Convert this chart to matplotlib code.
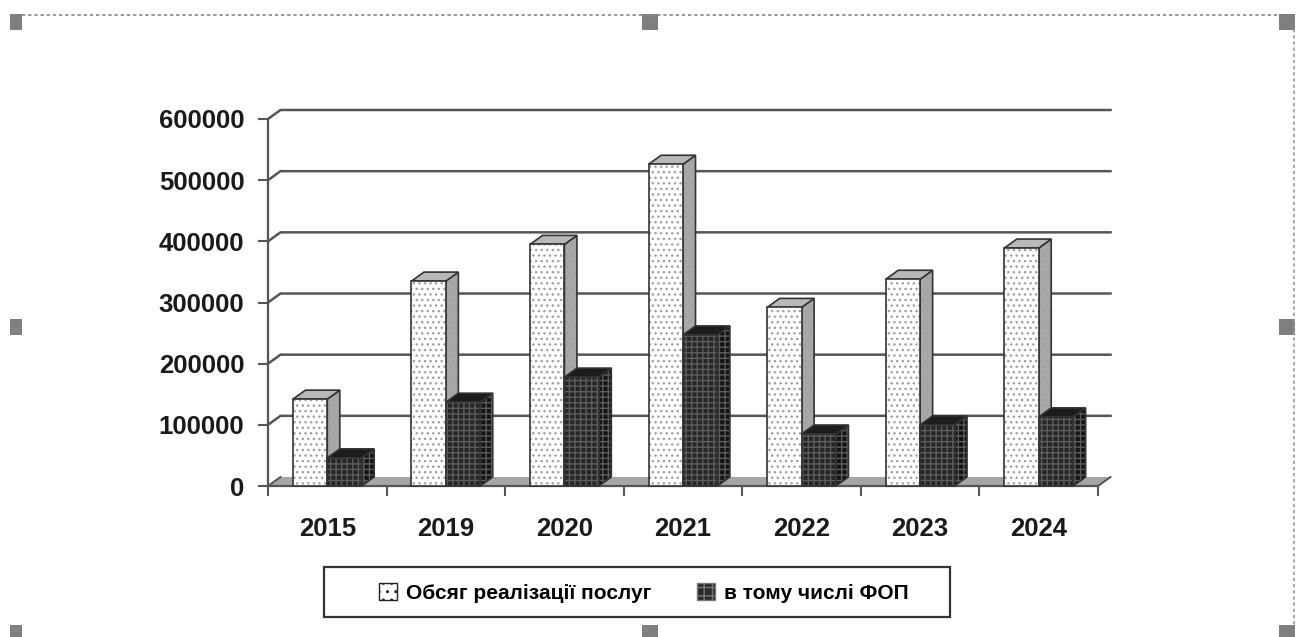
import matplotlib
matplotlib.use("Agg")
import matplotlib.pyplot as plt
from matplotlib.patches import Polygon, Patch, Rectangle

years = ["2015", "2019", "2020", "2021", "2022", "2023", "2024"]
sales = [142000, 335000, 395000, 526000, 292000, 338000, 389000]
fop = [46000, 137000, 178000, 247000, 85000, 100000, 113000]
y_ticks = [0, 100000, 200000, 300000, 400000, 500000, 600000]
sales_label = "Обсяг реалізації послуг"
fop_label = "в тому числі ФОП"

W = 1301
H = 637

plt.rcParams['font.family'] = ['Liberation Sans', 'DejaVu Sans']
plt.rcParams['hatch.linewidth'] = 1.0

fig = plt.figure(figsize=(W / 100, H / 100), dpi=100)

# front plane of the 3d box, in pixels: x 268..1098, y 119..486
ax = fig.add_axes([268 / W, (H - 486) / H, 830 / W, 367 / H])
ax.set_xlim(0, 7)
ax.set_ylim(0, 600000)
ax.patch.set_alpha(0)

# depth of the box expressed in data units
dx = 12.5 / (830 / 7)
dy = 9 / (367 / 600000)
bar_w = 0.29
bar_start = 0.21

grid_col = "#555555"


def poly(points, fc, zorder, hatch=None, hatch_col="#888888", edge="#333333"):
    if hatch:
        ax.add_patch(Polygon(points, closed=True, facecolor=fc, edgecolor=hatch_col,
                             hatch=hatch, linewidth=0, clip_on=False, zorder=zorder))
    else:
        ax.add_patch(Polygon(points, closed=True, facecolor=fc, edgecolor="none",
                             clip_on=False, zorder=zorder))
    ax.add_patch(Polygon(points, closed=True, facecolor="none", edgecolor=edge,
                         linewidth=1.2, clip_on=False, zorder=zorder))


def bar3d(x, v, front, side, top, hatch, hatch_col, z):
    x1 = x + bar_w
    poly([(x1, 0), (x1 + dx, dy), (x1 + dx, v + dy), (x1, v)], side, z, hatch, hatch_col)
    poly([(x, v), (x + dx, v + dy), (x1 + dx, v + dy), (x1, v)], top, z)
    poly([(x, 0), (x1, 0), (x1, v), (x, v)], front, z + 0.1, hatch, hatch_col)


# floor and back wall gridlines
ax.add_patch(Polygon([(0, 0), (dx, dy), (7 + dx, dy), (7, 0)], closed=True,
                     facecolor="#a6a6a6", edgecolor="none", clip_on=False, zorder=1))
for t in y_ticks[1:]:
    ax.plot([0, dx, 7 + dx], [t, t + dy, t + dy], color=grid_col, lw=1.8,
            clip_on=False, zorder=1.5, solid_joinstyle="miter")
ax.plot([0, dx], [0, dy], color=grid_col, lw=1.4, clip_on=False, zorder=1.5)
ax.plot([7, 7 + dx], [0, dy], color=grid_col, lw=1.4, clip_on=False, zorder=1.5)

for i in range(len(years)):
    x = i + bar_start
    bar3d(x, sales[i], "white", "#a8a8a8", "#b8b8b8", "...", "#a0a0a0", 3 + i)
    bar3d(x + bar_w, fop[i], "#262626", "#141414", "#1c1c1c", "+++", "#5c5c5c", 3.2 + i)

for s in ["top", "right"]:
    ax.spines[s].set_visible(False)
for s in ["left", "bottom"]:
    ax.spines[s].set_color(grid_col)
    ax.spines[s].set_linewidth(1.6)
    ax.spines[s].set_zorder(2)

ax.set_yticks(y_ticks)
ax.set_yticklabels([str(t) for t in y_ticks])
ax.set_xticks(range(8))
ax.set_xticklabels([])
ax.set_xticks([i + 0.5 for i in range(7)], labels=years, minor=True)
ax.tick_params(axis="both", which="major", length=7, width=1.5, color=grid_col)
ax.tick_params(axis="x", which="minor", length=0, pad=22)
ax.tick_params(axis="y", pad=10)
for lab in ax.get_yticklabels() + ax.get_xticklabels(minor=True):
    lab.set_fontsize(18.5)
    lab.set_fontweight("bold")
    lab.set_color("#1a1a1a")

handles = [
    Patch(facecolor="white", edgecolor="#222222", hatch="..", label=sales_label),
    Patch(facecolor="#2a2a2a", edgecolor="#777777", hatch="++", label=fop_label),
]
leg = fig.legend(handles=handles, ncol=2, loc="center", bbox_to_anchor=(644 / W, (H - 593) / H),
                 frameon=False, handlelength=0.85, handleheight=0.85, handletextpad=0.45,
                 columnspacing=2.2, prop={"weight": "bold", "size": 15})

# selection frame, handles and legend border, drawn in pixel units
ov = fig.add_axes([0, 0, 1, 1], zorder=-1)
ov.set_xlim(0, W)
ov.set_ylim(H, 0)
ov.axis("off")
ov.add_patch(Rectangle((324, 567), 626, 50, facecolor="white", edgecolor="#333333", linewidth=1.6))
ov.plot([22, 1280], [14.5, 14.5], color="#888888", lw=1.2, ls=(0, (2, 1.7)))
ov.plot([1294, 1294], [29, 626], color="#999999", lw=1.2, ls=(0, (2, 1.7)))
for (x0, y0, w, h) in [(10, 14, 12, 16), (642, 14, 16, 16), (1279, 14, 16, 16),
                       (10, 319, 12, 16), (1279, 319, 16, 16),
                       (10, 625, 12, 12), (642, 625, 16, 12), (1279, 625, 16, 12)]:
    ov.add_patch(Rectangle((x0, y0), w, h, facecolor="#7f7f7f", edgecolor="none"))

fig.savefig("out.png", dpi=100)
